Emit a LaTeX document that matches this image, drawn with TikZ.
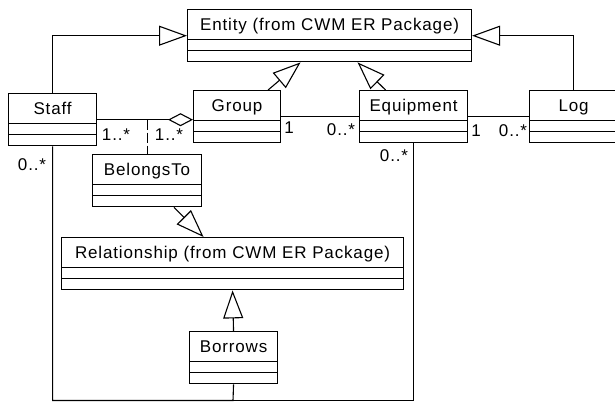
\documentclass[tikz,border=0pt]{standalone}
\usepackage{fontspec}
\setmainfont{Liberation Sans}[LetterSpace=5]
\usepackage{tikz}
\usetikzlibrary{shapes.multipart, arrows.meta, positioning, calc}
\newcommand{\clsbody}[1]{\rule[-9pt]{0pt}{29pt}#1\nodepart{two}\rule{0pt}{10pt}\nodepart{three}\rule{0pt}{10pt}}

\begin{document}
\begin{tikzpicture}[
    x=1pt, y=-1pt, line width=1.1pt,
    every node/.style={font=\fontsize{17}{19}\selectfont},
    cls/.style={draw, rectangle split, rectangle split parts=3, anchor=north west,
                inner xsep=0pt, inner ysep=0pt, align=center, text width=#1},
    gen/.style={-{Triangle[open, length=28pt, width=20pt]}},
    agg/.style={-{Diamond[open, length=25pt, width=13pt]}},
    mult/.style={inner sep=0pt}
]
\clip (0,0) rectangle (615,404);
\node[cls=284pt] (entity)       at (187,9)   {\clsbody{Entity (from CWM ER Package)}};
\node[cls=88pt]  (staff)        at (8,93)    {\clsbody{Staff}};
\node[cls=87pt]  (group)        at (193,90)  {\clsbody{Group}};
\node[cls=108pt] (equipment)    at (359,90)  {\clsbody{Equipment}};
\node[cls=88pt]  (log)          at (529,90)  {\clsbody{Log}};
\node[cls=109pt] (belongsto)    at (92,154)  {\clsbody{BelongsTo}};
\node[cls=342pt] (relationship) at (61,237)  {\clsbody{Relationship (from CWM ER Package)}};
\node[cls=88pt]  (borrows)      at (189,331) {\clsbody{Borrows}};

\draw[gen] (staff.north) |- (entity.west);
\draw[gen] (log.north) |- (entity.east);
\draw[gen] ($(group.north east)+(-13,0)$) -- ($(entity.south)+(-29,0)$);
\draw[gen] ($(equipment.north)+(-28,0)$) -- ($(entity.south)+(28,0)$);
\draw[gen] ($(belongsto.south)+(27,0)$) -- ($(relationship.north)+(-29,0)$);
\draw[gen] (borrows.north) -- (relationship.south);

\draw[agg] (staff.east) -- (group.west |- staff.east);
\coordinate (assoc) at (belongsto.north |- staff.east);
\draw[dash pattern=on 10pt off 3pt] (assoc) -- (belongsto.north);
\draw (group.east) -- (equipment.west |- group.east);
\draw (equipment.east) -- (log.west |- equipment.east);

\coordinate (base) at (233,400.5);
\draw (staff.south) |- (base) -- (borrows.south);
\draw (equipment.south) |- (base);

\node[mult] (m1) at (116,135) {1..*};
\node[mult] (m2) at (169,135) {1..*};
\node[mult] (m3) at (32,165)  {0..*};
\node[mult] (m4) at (289,128) {1};
\node[mult] (m5) at (341,130) {0..*};
\node[mult] (m6) at (476,131) {1};
\node[mult] (m7) at (513,131) {0..*};
\node[mult] (m8) at (394,156) {0..*};
\end{tikzpicture}
\end{document}
